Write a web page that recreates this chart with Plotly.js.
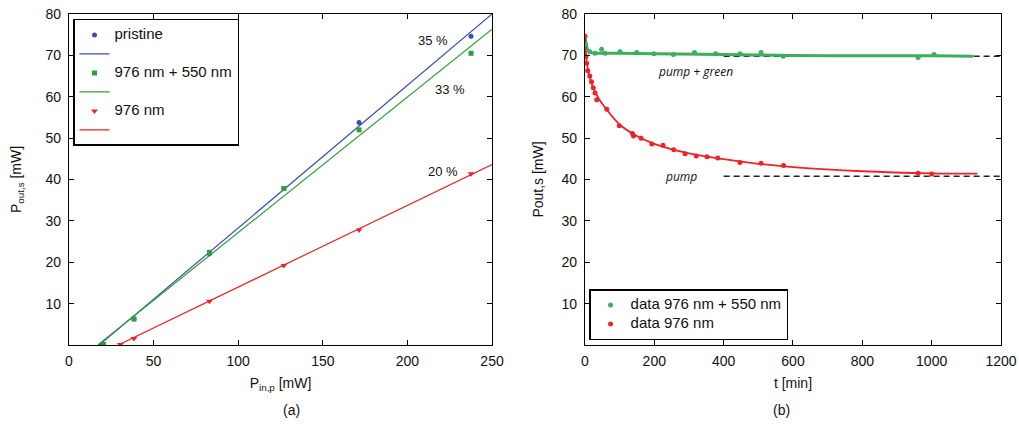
<!DOCTYPE html>
<html><head><meta charset="utf-8">
<script src="https://cdn.plot.ly/plotly-3.0.1.min.js"></script>
<style>html,body{margin:0;padding:0;background:#fff}#chart{width:1019px;height:424px}</style>
</head><body><div id="chart"></div>
<script>
// ---- panel (a) data ----
const pinPristine = [19.7, 38.4, 83, 127, 171.4, 237.6];
const poutPristine = [0.2, 6.3, 22.0, 37.8, 53.8, 74.6];
const pinGreen = [20.5, 38.4, 83, 127, 171.4, 237.6];
const poutGreen = [0.1, 6.3, 22.4, 37.8, 52.0, 70.5];
const pinRed = [30.3, 38.4, 83, 127, 171.4, 237.6];
const poutRed = [0.1, 1.6, 10.6, 19.2, 27.8, 41.4];
const fitBlueX = [17.9, 250], fitBlueY = [0, 80];
const fitGreenX = [17.0, 250], fitGreenY = [0, 76.3];
const fitRedX = [29.1, 250], fitRedY = [0, 43.6];
const seriesNamesA = ["pristine", "976 nm + 550 nm", "976 nm"];
const slopeLabels = ["35 %", "33 %", "20 %"];
const slopeX = [215, 225, 221], slopeY = [73.7, 61.8, 41.9];

// ---- panel (b) data ----
const tGreen = [0, 1, 14, 29, 48, 58, 101, 149, 199, 255, 316, 377, 447, 508, 572, 961, 1007];
const pGreen = [74.7, 72.6, 70.9, 70.5, 71.5, 70.5, 70.9, 70.7, 70.4, 70.2, 70.7, 70.4, 70.4, 70.7, 69.8, 69.5, 70.2];
const tRed = [0, 3, 5, 8, 14, 19, 24, 29, 34, 63, 99, 137, 140, 162, 193, 225, 256, 289, 321, 352, 383, 447, 508, 573, 961, 1000];
const pRed = [74.6, 69.7, 68.1, 66.3, 65.0, 63.6, 62.2, 60.9, 59.3, 57.0, 53.0, 51.1, 50.5, 50.0, 48.6, 48.3, 47.2, 46.2, 45.7, 45.5, 45.2, 44.1, 43.9, 43.4, 41.5, 41.3];
const fitTGreen = [0, 3, 6, 10, 15, 20, 30, 50, 100, 200, 400, 600, 800, 1000, 1120];
const fitPGreen = [74.8, 73.0, 71.8, 71.0, 70.7, 70.6, 70.5, 70.5, 70.5, 70.4, 70.2, 70.0, 69.9, 69.9, 69.8];
const fitTRed = [0, 5, 10, 20, 40, 60, 100, 150, 200, 300, 400, 500, 600, 800, 1000, 1132];
const fitPRed = [74.8, 68.5, 66.0, 63.0, 59.5, 57.2, 53.3, 50.5, 48.6, 46.3, 44.9, 43.8, 43.0, 42.0, 41.5, 41.4];
const seriesNamesB = ["data 976 nm + 550 nm", "data 976 nm"];
const asymT = [400, 1200];
const asymGreen = [69.8, 69.8];
const asymRed = [40.8, 40.8];
const curveLabels = ["pump + green", "pump"];
const curveLabelT = [320, 276], curveLabelP = [66.0, 40.7];

const BLUE = "#3b4fae", GREEN = "#2f9e3c", RED = "#ec2327", GREEN2 = "#3caf5c";
const tickFont = {family: "Liberation Sans, Arial, sans-serif", size: 14, color: "#111"};
const big = s => '<span style="font-size:15px">' + s + '</span>';

const traces = [
  {x: pinPristine, y: poutPristine, mode: "markers", name: big(seriesNamesA[0]), marker: {color: BLUE, size: 5, symbol: "circle"}, xaxis: "x", yaxis: "y", legend: "legend"},
  {x: fitBlueX, y: fitBlueY, mode: "lines", name: " ", line: {color: BLUE, width: 1.2}, xaxis: "x", yaxis: "y", legend: "legend"},
  {x: pinGreen, y: poutGreen, mode: "markers", name: big(seriesNamesA[1]), marker: {color: GREEN, size: 5, symbol: "square"}, xaxis: "x", yaxis: "y", legend: "legend"},
  {x: fitGreenX, y: fitGreenY, mode: "lines", name: " ", line: {color: GREEN, width: 1.2}, xaxis: "x", yaxis: "y", legend: "legend"},
  {x: pinRed, y: poutRed, mode: "markers", name: big(seriesNamesA[2]), marker: {color: RED, size: 6, symbol: "triangle-down"}, xaxis: "x", yaxis: "y", legend: "legend"},
  {x: fitRedX, y: fitRedY, mode: "lines", name: " ", line: {color: RED, width: 1.2}, xaxis: "x", yaxis: "y", legend: "legend"},

  {x: asymT, y: asymGreen, mode: "lines", showlegend: false, line: {color: "#222", width: 1.5, dash: "6px,4px"}, xaxis: "x2", yaxis: "y2"},
  {x: asymT, y: asymRed, mode: "lines", showlegend: false, line: {color: "#222", width: 1.5, dash: "6px,4px"}, xaxis: "x2", yaxis: "y2"},
  {x: fitTGreen, y: fitPGreen, mode: "lines", showlegend: false, line: {color: GREEN2, width: 3, shape: "spline"}, xaxis: "x2", yaxis: "y2"},
  {x: fitTRed, y: fitPRed, mode: "lines", showlegend: false, line: {color: RED, width: 1.8, shape: "spline"}, xaxis: "x2", yaxis: "y2"},
  {x: tGreen, y: pGreen, mode: "markers", name: big(seriesNamesB[0]), marker: {color: GREEN2, size: 5}, xaxis: "x2", yaxis: "y2", legend: "legend2"},
  {x: tRed, y: pRed, mode: "markers", name: big(seriesNamesB[1]), marker: {color: RED, size: 5}, xaxis: "x2", yaxis: "y2", legend: "legend2"}
];

function axisBase(extra) {
  return Object.assign({
    showline: true, linecolor: "#000", linewidth: 1.2, mirror: "allticks",
    ticks: "inside", ticklen: 5, tickcolor: "#000", tickwidth: 1,
    showgrid: false, zeroline: false, tickfont: tickFont
  }, extra);
}

const annotations = [];
slopeLabels.forEach((s, i) => annotations.push({x: slopeX[i], y: slopeY[i], xref: "x", yref: "y", text: s, showarrow: false, font: {family: "Liberation Sans, Arial", size: 13, color: "#111"}}));
curveLabels.forEach((s, i) => annotations.push({x: curveLabelT[i], y: curveLabelP[i], xref: "x2", yref: "y2", text: "<i>" + s + "</i>", showarrow: false, font: {family: "Open Sans, Liberation Sans", size: 12, color: "#111"}}));
annotations.push({x: 0.227, y: -0.196, xref: "paper", yref: "paper", yanchor: "middle", text: "(a)", showarrow: false, font: {family: "Liberation Sans, Arial", size: 14, color: "#111"}});
annotations.push({x: 0.776, y: -0.196, xref: "paper", yref: "paper", yanchor: "middle", text: "(b)", showarrow: false, font: {family: "Liberation Sans, Arial", size: 14, color: "#111"}});

const titleFont = {family: "Liberation Sans, Arial", size: 14, color: "#111"};
const legFont = {family: "Liberation Sans, Arial", size: 11, color: "#111"};
const layout = {
  width: 1019, height: 424,
  margin: {l: 69, r: 18, t: 14, b: 79},
  paper_bgcolor: "#fff", plot_bgcolor: "#fff",
  xaxis: axisBase({domain: [0, 0.4539], range: [0, 250], tickvals: [0, 50, 100, 150, 200, 250], ticklabelstandoff: 3, title: {text: "P<sub>in,p</sub> [mW]", font: titleFont, standoff: 10}, anchor: "y"}),
  yaxis: axisBase({domain: [0, 1], range: [0, 80], tickvals: [10, 20, 30, 40, 50, 60, 70, 80], ticklabelstandoff: 4, title: {text: "P<sub>out,s</sub> [mW]", font: titleFont, standoff: 20}, anchor: "x"}),
  xaxis2: axisBase({domain: [0.5536, 1], range: [0, 1200], tickvals: [0, 200, 400, 600, 800, 1000, 1200], ticklabelstandoff: 3, title: {text: "t [min]", font: titleFont, standoff: 10}, anchor: "y2"}),
  yaxis2: axisBase({domain: [0, 1], range: [0, 80], tickvals: [10, 20, 30, 40, 50, 60, 70, 80], ticklabelstandoff: 4, title: {text: "Pout,s [mW]", font: titleFont, standoff: 14}, anchor: "x2"}),
  legend: {x: 0.0043, y: 0.985, xanchor: "left", yanchor: "top", bordercolor: "#000", borderwidth: 1.5, bgcolor: "#fff", font: legFont, tracegroupgap: 0, traceorder: "normal"},
  legend2: {x: 0.558, y: 0.015, xanchor: "left", yanchor: "bottom", bordercolor: "#000", borderwidth: 1.5, bgcolor: "#fff", font: legFont, traceorder: "normal"},
  annotations: annotations,
  showlegend: true
};

Plotly.newPlot("chart", traces, layout, {staticPlot: true, displayModeBar: false});
</script>
</body></html>
